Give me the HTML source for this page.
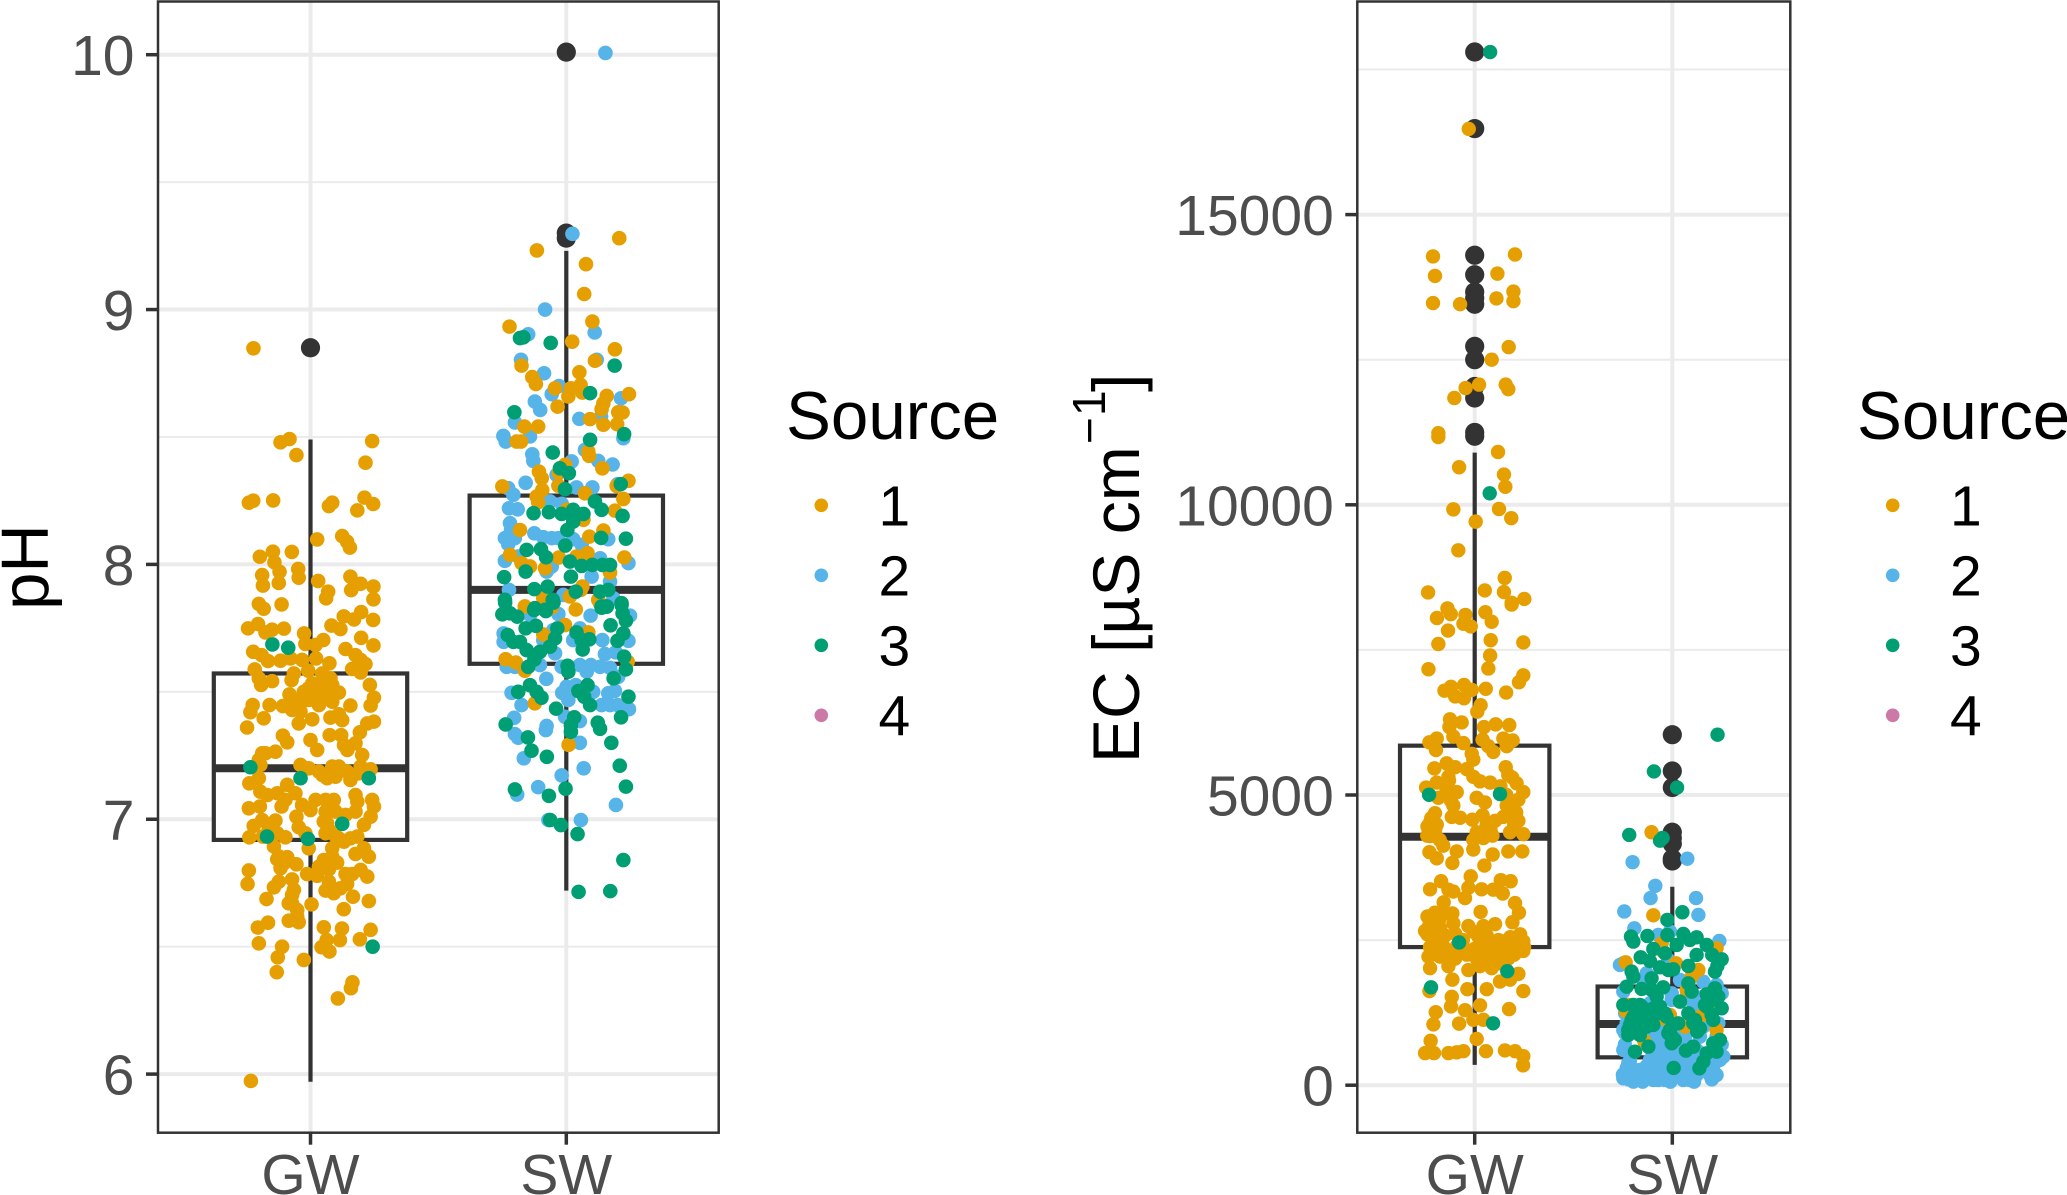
<!DOCTYPE html>
<html lang="en">
<head>
<meta charset="utf-8">
<title>pH and EC by water type</title>
<style>
html,body{margin:0;padding:0;background:#fff;width:2067px;height:1195px;overflow:hidden}
svg{display:block;font-family:"Liberation Sans",Arial,sans-serif}
</style>
</head>
<body>
<svg id="figure" xmlns="http://www.w3.org/2000/svg" width="2067" height="1195" viewBox="0 0 2067 1195">
<rect width="2067" height="1195" fill="#fff"/>
<g id="ph-panel"></g>
<g id="ec-panel"></g>
<text transform="translate(48,567) rotate(-90)" text-anchor="middle" font-size="67" fill="#000">pH</text>
<text transform="translate(1139,763) rotate(-90)" font-size="66" fill="#000">EC [µS cm</text>
<text transform="translate(1105,444) rotate(-90)" font-size="46" fill="#000">−</text>
<text transform="translate(1105,416) rotate(-90)" font-size="46" fill="#000">1</text>
<text transform="translate(1139,392) rotate(-90)" font-size="66" fill="#000">]</text>
<g>
<text x="786" y="439" font-size="67.3" fill="#000">Source</text>
<circle cx="821.3" cy="505.3" r="6.8" fill="#E69F00"/>
<circle cx="821.3" cy="575.3" r="6.8" fill="#56B4E9"/>
<circle cx="821.3" cy="645.3" r="6.8" fill="#009E73"/>
<circle cx="821.3" cy="715.3" r="6.8" fill="#CC79A7"/>
<text x="878.5" y="525.7" font-size="57" fill="#000">1</text>
<text x="878.5" y="595.7" font-size="57" fill="#000">2</text>
<text x="878.5" y="665.7" font-size="57" fill="#000">3</text>
<text x="878.5" y="735.7" font-size="57" fill="#000">4</text>
</g>
<g>
<text x="1857" y="439" font-size="67.3" fill="#000">Source</text>
<circle cx="1892.7" cy="505.3" r="6.8" fill="#E69F00"/>
<circle cx="1892.7" cy="575.3" r="6.8" fill="#56B4E9"/>
<circle cx="1892.7" cy="645.3" r="6.8" fill="#009E73"/>
<circle cx="1892.7" cy="715.3" r="6.8" fill="#CC79A7"/>
<text x="1950" y="525.7" font-size="57" fill="#000">1</text>
<text x="1950" y="595.7" font-size="57" fill="#000">2</text>
<text x="1950" y="665.7" font-size="57" fill="#000">3</text>
<text x="1950" y="735.7" font-size="57" fill="#000">4</text>
</g>
</svg>
<script>
// Categories and tick values
const categories = ['GW', 'SW'];
const phMajorTicks = [6, 7, 8, 9, 10];
const phMinorTicks = [6.5, 7.5, 8.5, 9.5];
const ecMajorTicks = [0, 5000, 10000, 15000];
const ecMinorTicks = [2500, 7500, 12500, 17500];

// Box statistics per category: GW, SW
const phLower = [5.97, 6.72];
const phQ1 = [6.919, 7.61];
const phMedian = [7.2, 7.9];
const phQ3 = [7.572, 8.27];
const phUpper = [8.49, 9.23];
const ecLower = [350, 20];
const ecQ1 = [2380, 480];
const ecMedian = [4280, 1055];
const ecQ3 = [5850, 1700];
const ecUpper = [10900, 3420];

// Outlier values per category
const phOutliersGw = [8.85];
const phOutliersSw = [10.01, 9.3, 9.28];
const ecOutliersGw = [17801, 16482, 14300, 13964, 13667, 13560, 13456, 12730, 12500, 12038, 11840, 11247, 11181];
const ecOutliersSw = [6039, 5413, 5129, 4358, 4259, 4160, 3903, 3863];

// Jittered samples as [jitter in category units, measured value]
const phGwSource1 = [[-.223,8.848],[-.117,8.479],[-.082,8.492],[-.055,8.429],[.241,8.484],[.215,8.399],[-.241,8.242],[-.224,8.25],[-.146,8.251],[.072,8.229],[.085,8.242],[.183,8.212],[.211,8.262],[.245,8.237],[.026,8.098],[.124,8.111],[.143,8.089],[.154,8.066],[-.198,8.03],[-.147,8.05],[-.073,8.049],[-.141,8.008],[-.121,7.971],[-.124,7.927],[-.048,7.982],[-.046,7.948],[-.189,7.958],[-.186,7.917],[.03,7.935],[.156,7.952],[.196,7.924],[.159,7.899],[.246,7.913],[.246,7.863],[.069,7.893],[.061,7.867],[-.202,7.845],[-.183,7.826],[-.113,7.843],[-.244,7.749],[-.205,7.766],[-.176,7.733],[-.15,7.744],[-.104,7.748],[.082,7.76],[.117,7.746],[.13,7.796],[.17,7.784],[.198,7.813],[.245,7.782],[-.025,7.729],[-.02,7.688],[.05,7.703],[.02,7.684],[.198,7.712],[.246,7.682],[.137,7.668],[.176,7.644],[.196,7.625],[.215,7.609],[.163,7.59],[.196,7.576],[-.224,7.657],[-.191,7.644],[-.166,7.621],[-.117,7.622],[-.078,7.631],[-.033,7.625],[-.009,7.583],[.022,7.631],[.074,7.612],[-.218,7.588],[-.202,7.553],[-.193,7.527],[-.15,7.542],[-.065,7.572],[-.074,7.546],[.046,7.572],[.078,7.553],[-.026,7.5],[.007,7.533],[.046,7.54],[.02,7.487],[.059,7.514],[-.007,7.468],[.033,7.448],[.085,7.461],[.111,7.497],[-.082,7.49],[-.039,7.455],[-.108,7.444],[-.072,7.429],[-.16,7.448],[-.226,7.448],[-.235,7.42],[-.183,7.396],[-.248,7.36],[.232,7.527],[.248,7.477],[.235,7.446],[.156,7.446],[.007,7.392],[.078,7.399],[.111,7.412],[.124,7.389],[-.046,7.376],[.248,7.383],[.222,7.376],[.193,7.341],[.075,7.33],[.12,7.33],[-.108,7.328],[-.091,7.302],[0,7.311],[.026,7.272],[-.189,7.259],[-.137,7.265],[.131,7.291],[.176,7.298],[.144,7.272],[.202,7.252],
[-.196,7.213],[-.202,7.161],[-.239,7.141],[-.039,7.213],[-.007,7.2],[.033,7.187],[.085,7.207],[.111,7.207],[.065,7.161],[.098,7.167],[.156,7.154],[.196,7.207],[.235,7.196],[.143,7.187],[-.091,7.135],[-.059,7.102],[-.196,7.108],[-.169,7.095],[-.13,7.102],[-.098,7.076],[-.113,7.05],[-.241,7.043],[-.198,7.05],[.176,7.095],[.183,7.069],[.241,7.076],[.248,7.05],[.176,7.03],[.02,7.076],[.059,7.076],[.091,7.076],[-.033,7.056],[0,7.036],[.059,7.03],[.098,7.03],[.137,7.017],[.235,7.01],[-.055,7.01],[-.046,6.969],[.065,6.984],[.209,6.978],[-.189,6.997],[-.137,6.995],[-.222,6.974],[-.163,6.965],[-.239,6.929],[-.186,6.932],[-.13,6.945],[-.098,6.929],[-.02,6.945],[.059,6.945],[.098,6.935],[.131,6.912],[.183,6.932],[-.143,6.893],[-.007,6.886],[.085,6.886],[.209,6.886],[.176,6.864],[.228,6.853],[-.13,6.843],[-.091,6.851],[-.055,6.823],[-.117,6.808],[.052,6.84],[.104,6.83],[.072,6.804],[.033,6.814],[.196,6.801],[-.241,6.799],[-.246,6.746],[-.013,6.785],[.026,6.778],[.137,6.785],[.163,6.785],[.222,6.775],[-.072,6.764],[-.124,6.755],[-.143,6.733],[.059,6.72],[.091,6.71],[.117,6.729],[.143,6.746],[.072,6.755],[.166,6.696],[.228,6.679],[-.172,6.687],[-.072,6.703],[-.085,6.67],[.004,6.666],[.13,6.647],[-.052,6.644],[-.085,6.602],[-.046,6.596],[-.166,6.594],[-.206,6.575],[.052,6.576],[.123,6.571],[.235,6.566],[.193,6.529],[.115,6.526],[.063,6.526],[.043,6.498],[.074,6.481],[-.202,6.513],[-.111,6.5],[-.128,6.458],[-.026,6.448],[-.132,6.4],[.164,6.36],[.158,6.337],[.107,6.297],[-.233,5.973]];
const phGwSource1Cluster = [[-.007,7.514],[.026,7.507],[.065,7.54],[.039,7.474],[-.02,7.487],[-.052,7.468],[.059,7.481],[-.072,7.448],[.085,7.527],[-.039,7.422],[.072,7.036],[.052,6.991],[.085,7.05],[.072,6.958],[.111,6.925],[.156,6.925],[-.124,6.854],[-.104,6.827],[-.072,6.67],[-.065,6.723],[-.052,6.618],[.085,6.853],[.052,6.814],[-.202,7.233],[-.176,7.259],[.046,7.174],[.188,7.18]];
const phGwSource3 = [[-.149,7.686],[-.087,7.673],[-.235,7.204],[-.039,7.161],[.228,7.161],[.124,6.982],[-.01,6.923],[-.17,6.932],[.243,6.5]];
const phSwSource1 = [[.207,9.28],[-.115,9.232],[.077,9.178],[.07,9.061],[-.222,8.933],[.102,8.953],[.023,8.874],[.19,8.844],[.112,8.799],[-.175,8.78],[.051,8.754],[-.133,8.735],[-.119,8.708],[-.044,8.691],[.245,8.668],[.158,8.661],[.018,8.691],[.056,8.704],[.063,8.674],[.008,8.659],[-.034,8.619],[.145,8.632],[.138,8.609],[.203,8.597],[.22,8.596],[.093,8.57],[.145,8.548],[.199,8.55],[-.164,8.541],[-.11,8.541],[-.194,8.482],[-.177,8.482],[.086,8.443],[.089,8.426],[.141,8.377],[-.107,8.364],[-.096,8.338],[-.005,8.391],[-.029,8.36],[-.031,8.309],[-.25,8.306],[-.094,8.292],[-.116,8.266],[-.11,8.244],[.073,8.279],[.223,8.257],[.243,8.328],[.197,8.308],[.19,8.211],[-.181,8.135],[.145,8.133],[.09,8.109],[-.22,8.037],[-.175,8.005],[-.142,7.992],[-.083,7.985],[-.029,8.027],[.04,8.031],[.083,8.044],[.227,8.027],[.171,7.968],[.063,7.913],[.057,7.9],[.014,7.874],[-.09,7.867],[-.162,7.835],[.125,7.861],[.001,8.214],[.067,8.175],[-.162,7.834],[-.057,7.831],[.037,7.823],[.132,7.847],[-.005,7.762],[-.09,7.725],[.086,7.733],[-.237,7.628],[-.197,7.615],[-.162,7.583],[.24,7.618],[-.123,7.455],[.009,7.292]];
const phSwSource2 = [[.153,10.007],[.024,9.297],[-.083,9],[-.149,8.903],[.111,8.91],[-.177,8.803],[-.087,8.75],[.119,8.803],[-.029,8.7],[-.057,8.668],[.214,8.652],[-.123,8.639],[-.102,8.606],[-.201,8.557],[.051,8.571],[.136,8.58],[-.142,8.502],[-.246,8.504],[-.237,8.482],[.223,8.495],[-.133,8.432],[-.129,8.406],[.073,8.449],[.125,8.406],[.181,8.392],[.021,8.404],[-.159,8.32],[-.038,8.351],[-.227,8.299],[-.207,8.273],[.04,8.302],[.102,8.302],[.201,8.315],[-.224,8.22],[-.19,8.216],[-.064,8.247],[-.018,8.238],[-.22,8.162],[-.216,8.135],[-.125,8.122],[-.09,8.107],[-.057,8.103],[-.031,8.103],[-.24,8.103],[-.201,8.103],[-.227,8.079],[.027,8.099],[.06,8.077],[.164,8.099],[-.24,8.014],[-.188,8.031],[.132,8.024],[.243,8.005],[-.077,7.972],[-.057,7.992],[.099,7.952],[.171,7.933],[-.224,7.9],[-.012,7.88],[.184,7.867],[-.031,7.805],[.095,7.799],[.249,7.799],[-.142,7.801],[-.245,7.729],[-.245,7.696],[-.051,7.742],[.053,7.749],[.027,7.703],[.141,7.703],[.243,7.7],[-.09,7.703],[-.044,7.651],[.151,7.648],[.193,7.655],[-.233,7.598],[-.201,7.598],[-.103,7.605],[-.018,7.598],[.053,7.605],[.096,7.605],[.132,7.598],[.171,7.594],[.08,7.579],[-.078,7.551],[.203,7.559],[-.214,7.496],[.001,7.52],[.037,7.526],[-.016,7.496],[.008,7.468],[.105,7.5],[.164,7.494],[.19,7.504],[.138,7.448],[.171,7.448],[.201,7.448],[.245,7.432],[-.175,7.448],[-.204,7.398],[-.005,7.402],[.053,7.385],[-.077,7.366],[-.08,7.35],[-.201,7.334],[-.188,7.32],[.053,7.3],[-.166,7.239],[.068,7.2],[-.018,7.172],[-.11,7.126],[-.192,7.097],[.194,7.056],[.057,6.997],[-.07,6.997]];
const phSwSource3 = [[-.181,8.888],[-.168,8.891],[-.061,8.869],[.189,8.78],[.093,8.672],[-.203,8.597],[.226,8.511],[.093,8.489],[-.053,8.439],[-.025,8.377],[.01,8.358],[-.005,8.295],[.213,8.315],[.112,8.247],[.138,8.214],[-.128,8.201],[-.068,8.205],[-.018,8.198],[.027,8.214],[.067,8.198],[.027,8.168],[.004,8.135],[.22,8.19],[.136,8.104],[.233,8.101],[-.004,8.074],[-.155,8.057],[-.099,8.06],[-.079,8.028],[.014,8.011],[.06,7.994],[.102,7.998],[.141,7.998],[.171,7.998],[-.243,7.95],[-.159,7.972],[.018,7.952],[-.125,7.903],[-.073,7.913],[.132,7.893],[.164,7.9],[.037,7.893],[-.24,7.861],[-.053,7.861],[.216,7.848],[.138,7.835],[.158,7.835],[-.123,7.828],[-.083,7.822],[-.239,7.85],[-.25,7.804],[-.22,7.808],[-.192,7.795],[-.126,7.821],[-.08,7.817],[-.05,7.85],[.138,7.83],[.158,7.834],[.216,7.84],[.22,7.808],[.233,7.779],[.173,7.761],[-.159,7.749],[-.119,7.759],[-.229,7.723],[-.207,7.696],[-.181,7.696],[-.155,7.664],[-.035,7.749],[-.044,7.71],[-.064,7.677],[-.103,7.657],[-.125,7.627],[-.149,7.598],[.04,7.733],[.06,7.703],[.09,7.706],[.064,7.666],[.223,7.729],[.2,7.7],[.226,7.638],[.233,7.588],[.005,7.602],[.008,7.579],[.185,7.553],[-.188,7.5],[-.142,7.526],[-.116,7.5],[-.097,7.477],[.083,7.526],[.047,7.503],[.07,7.481],[.093,7.448],[.243,7.481],[-.04,7.434],[.031,7.4],[.018,7.369],[.018,7.343],[.214,7.4],[.123,7.379],[.132,7.355],[-.237,7.372],[-.15,7.321],[-.136,7.269],[.176,7.3],[-.076,7.245],[.209,7.21],[.233,7.128],[-.201,7.117],[-.003,7.12],[-.068,7.092],[-.063,6.997],[-.021,6.977],[.044,6.942],[.223,6.84],[.048,6.715],[.172,6.718]];

const ecGwSource1 = [[-.03,16476],[-.211,14280],[.204,14313],[-.201,13944],[.115,13983],[.196,13673],[.196,13508],[.11,13555],[-.211,13476],[-.074,13456],[.172,12717],[.086,12500],[-.046,12012],[.022,12071],[.157,12071],[.17,11992],[-.103,11840],[-.184,11234],[-.184,11168],[.118,10910],[-.079,10647],[.148,10521],[.155,10310],[-.108,9921],[.123,9928],[.185,9770],[.005,9710],[-.083,9216],[.152,8741],[-.236,8490],[.051,8524],[.148,8497],[.251,8378],[.187,8312],[.187,8281],[-.138,8215],[-.121,8116],[-.191,8050],[-.047,8103],[.054,8149],[.086,7984],[-.057,7951],[-.02,7905],[-.135,7833],[.081,7668],[.246,7628],[-.184,7602],[.078,7404],[.069,7180],[-.234,7167],[.246,7061],[.224,6943],[-.153,6798],[-.12,6863],[-.054,6896],[-.015,6811],[-.099,6699],[-.054,6666],[.056,6830],[.159,6765],[.03,6547],[.013,6435],[-.125,6303],[-.066,6250],[-.128,6171],[-.108,6006],[.047,6171],[.106,6217],[.175,6204],[-.192,5973],[-.229,5907],[-.057,5894],[-.196,5775],[.04,5953],[.069,5841],[.145,5973],[.192,5940],[.162,5841],[.094,5742],[-.015,5710],[-.007,5611],[-.204,5459],[-.142,5545],[-.099,5479],[-.04,5446],[.157,5479],[.17,5347],[-.133,5314],[-.007,5314],[.027,5235],[-.246,5129],[-.192,5215],[.078,5215],[.212,5202],[-.142,5083],[-.091,5050],[.246,5050],[-.184,4951],[.01,4951],[.052,4872],[.221,4918],[-.108,4819],[.162,4819],[-.201,4687],[-.116,4622],[-.074,4608],[-.012,4575],[.179,4687],[.145,4622],[.221,4555],[-.239,4457],[-.192,4490],[.061,4490],[.103,4555],[.01,4358],[.179,4358],[.246,4325],[-.226,4292],[.044,4259],[-.007,4226],[-.177,4226],[-.159,4127],[-.007,4061],[-.229,4015],[-.192,3909],[-.091,4028],[-.113,3830],[.091,3975],[.17,4028],[.241,4028],[.049,3784],[-.02,3599],[-.17,3514],[.132,3533],[.182,3514],[-.226,3375],[-.133,3369],[-.108,3336],[-.032,3402],[.035,3375],[.094,3369],[.142,3303],[-.049,3224],[-.157,3151],[.204,3138],[.03,2986],[.224,2973],[-.113,2960],[-.201,2973],[.191,2808],[.103,2775],[-.032,2742],[.044,2742],[-.239,2907],[-.192,2808],[-.108,2788],[-.251,2657],[-.175,2709],[-.099,2610],[-.007,2643],[.061,2577],[.204,2544],[.145,2479],[.246,2479],[-.201,2479],[-.15,2577],[-.226,2380],[.035,2413],[.086,2446],[-.049,2346],[.145,2281],[.196,2314],[.246,2314],[-.234,2215],[-.175,2215],[-.099,2182],[.01,2182],[.061,2215],[.17,2182],[-.226,2017],[-.133,2050],[-.032,1984],[.027,2050],[.086,2017],[.221,1918],[.179,1819],[.128,1786],[.061,1654],[-.113,1819],[-.037,1654],[.246,1622],[-.229,1622],[-.116,1522],[-.12,1357],[.027,1377],[.174,1311],[-.049,1292],[-.197,1258],[-.079,1061],[-.209,1047],[-.007,1127],[.044,1127],[.01,797],[-.223,764],[-.251,553],[-.206,553],[-.133,553],[-.091,566],[-.057,586],[.057,586],[.153,599],[.204,586],[.246,500],[.245,342]];
const ecGwSource1Cluster = [[-.24,2600],[-.21,2350],[-.19,2250],[-.16,2400],[-.14,2300],[-.12,2150],[-.09,2400],[-.06,2500],[-.04,2250],[0,2350],[.02,2550],[.05,2450],[.07,2350],[.1,2300],[.12,2500],[.16,2400],[.18,2550],[.2,2250],[.22,2450],[.23,2600],[.25,2380],[.13,2100],[.09,2150],[.04,2200],[-.23,2750],[-.2,2650],[-.18,2850],[-.16,2950],[-.24,4300],[-.22,4600],[-.2,4400],[-.23,4500],[.04,4650],[.08,4400],[.09,4300],[.16,5000],[.2,4500],[.19,5300],[.13,5150],[.21,4700],[-.12,4900],[-.13,5250]];
const ecGwSource3 = [[.078,17801],[.076,10198],[-.231,5004],[.128,5017],[-.079,2459],[.165,1964],[-.221,1687],[.093,1067]];
const ecSwSource1 = [[-.105,4358],[-.096,2927],[-.054,2445],[.224,2359],[-.046,2301],[-.236,2117],[.019,2100],[.132,1985],[.098,1870],[-.223,1382],[-.236,1279],[-.012,1210],[-.046,1153],[.14,1181],[.064,1009],[.224,952],[-.142,762],[.073,1641],[.207,1325]];
const ecSwSource2 = [[-.201,3843],[.076,3903],[-.086,3435],[-.11,3224],[.12,3224],[-.243,2993],[.132,2933],[-.192,2703],[.238,2485],[-.071,2588],[-.012,2646],[-.248,2100],[-.265,2072],[-.13,1928],[.039,1813],[.157,1784],[.224,1727],[-.248,1612],[-.003,1583],[-.239,1239],[-.231,1067],[-.248,952],[.106,1411],[-.003,1469],[-.037,952],[-.062,837],[-.113,837],[.224,837],[.241,665],[.258,492],[-.248,607],[-.223,377],[-.231,148],[-.197,62],[-.155,148],[-.248,119],[-.18,234],[-.096,665],[-.079,492],[-.029,550],[-.113,435],[-.062,377],[-.012,377],[.039,435],[.089,320],[-.105,263],[-.121,148],[-.071,90],[-.037,90],[.03,148],[.073,148],[.115,148],[.056,291],[-.046,234],[-.096,90],[-.147,90],[.191,176],[.224,176],[.157,492],[.207,492],[.241,435],[.207,320],[-.046,665],[.005,607],[.073,550],[.123,607],[-.012,837],[.022,1009],[.064,837],[.14,837],[.157,1009],[-.037,780],[-.096,1009],[-.02,1124],[.106,1239],[-.113,1411],[-.147,1813],[-.02,2158],[.073,1526],[.157,1526],[.25,1583],[-.214,435],[-.197,205],[-.164,263],[-.231,291],[-.18,90],[-.037,2560],[.216,1698],[.233,1067],[.056,90],[.089,90],[.123,176]];
const ecSwSource2Cluster = [[-.25,180],[-.22,100],[-.2,280],[-.17,150],[-.15,60],[-.13,250],[-.09,190],[-.06,130],[-.03,200],[-.01,60],[.01,170],[.04,250],[.06,190],[.09,200],[.11,60],[.13,280],[.17,280],[.2,100],[-.08,560],[-.03,420],[.02,500],[.05,620],[.09,450],[-.05,900],[-.1,560],[-.13,330],[.02,740],[.03,330],[-.01,280],[.12,400],[.14,560],[.22,420],[.25,700],[-.24,700],[-.24,900]];
const ecSwSource3 = [[.229,6039],[-.093,5406],[.024,5129],[-.218,4312],[-.062,4213],[-.049,4259],[.051,2980],[-.025,2848],[-.209,2560],[-.197,2474],[-.126,2571],[-.025,2588],[.056,2606],[.022,2416],[.123,2548],[.089,2502],[.174,2416],[-.096,2347],[-.037,2273],[.202,2244],[.123,2244],[.25,2169],[-.16,2204],[-.113,2140],[.081,2054],[-.062,2031],[.005,1997],[-.02,1985],[.228,2054],[.216,1957],[-.206,1957],[-.197,1870],[-.105,1842],[-.231,1698],[-.155,1658],[-.046,1687],[-.105,1641],[.081,1756],[.098,1612],[-.079,1526],[.216,1670],[.174,1566],[.224,1469],[.25,1325],[.174,1354],[.039,1440],[-.248,1382],[-.164,1382],[-.096,1325],[-.062,1354],[-.189,1325],[-.147,1267],[-.037,1239],[.081,1239],[-.18,1181],[-.147,1153],[-.096,1038],[-.214,1038],[-.172,1009],[-.223,865],[-.164,865],[.03,1067],[-.012,952],[.106,1067],[.126,923],[.207,1124],[-.003,837],[-.003,722],[-.121,665],[-.189,578],[.241,779],[.207,722],[.224,578],[.106,665],[.069,596],[.174,550],[.157,406],[.137,291],[.007,297]];
const ecSwSource3Cluster = [[-.197,1382],[-.18,1267],[-.155,1354],[-.13,1296],[-.105,1239],[-.197,1181],[-.164,1124],[-.13,1124],[-.206,1124],[-.189,1038],[-.223,952],[-.13,1009],[-.071,1239],[-.029,1181],[.013,779],[-.02,894],[.115,1124],[.14,980],[.199,1210],[.233,1526],[.191,1555],[.165,1382]];

const SVG_NS = 'http://www.w3.org/2000/svg';
const COLOR_S1 = '#E69F00', COLOR_S2 = '#56B4E9', COLOR_S3 = '#009E73';
const INK = '#333333', GRID = '#EBEBEB', LABEL = '#4D4D4D';
const BOX_HALF = 0.378;
const TOP = 1.5, BOTTOM = 1132.7, TICK = 12;

function make(tag, parent, attrs) {
  const el = document.createElementNS(SVG_NS, tag);
  for (const k in attrs) el.setAttribute(k, attrs[k]);
  parent.appendChild(el);
  return el;
}

function drawPanel(cfg) {
  const g = document.getElementById(cfg.id);
  const x = (i, j) => cfg.x0 + (i + (j || 0)) * cfg.xUnit;
  const y = v => cfg.y0 - v * cfg.yUnit;

  cfg.minor.forEach(v => {
    const el = make('line', g, {x1: cfg.left, x2: cfg.right, y1: y(v), y2: y(v), stroke: GRID, 'stroke-width': 2});
    
    
  });
  cfg.major.forEach(v => {
    const el = make('line', g, {x1: cfg.left, x2: cfg.right, y1: y(v), y2: y(v), stroke: GRID, 'stroke-width': 4});
    
    
  });
  categories.forEach((c, i) => {
    const el = make('line', g, {x1: x(i), x2: x(i), y1: TOP, y2: BOTTOM, stroke: GRID, 'stroke-width': 4});
    
    
  });

  categories.forEach((c, i) => {
    const whisker = make('line', g, {x1: x(i), x2: x(i), y1: y(cfg.upper[i]), y2: y(cfg.lower[i]), stroke: INK, 'stroke-width': 4.2});
    
    
    const box = make('rect', g, {x: x(i, -BOX_HALF), width: 2 * BOX_HALF * cfg.xUnit, y: y(cfg.q3[i]), height: y(cfg.q1[i]) - y(cfg.q3[i]), fill: '#fff', stroke: INK, 'stroke-width': 4.2});
    
    
    const median = make('line', g, {x1: x(i, -BOX_HALF), x2: x(i, BOX_HALF), y1: y(cfg.median[i]), y2: y(cfg.median[i]), stroke: INK, 'stroke-width': 8});
    
    
    cfg.outliers[i].forEach(v => {
      const o = make('circle', g, {cx: x(i), cy: y(v), r: 9.6, fill: INK});
      
      
    });
  });

  cfg.series.forEach(s => {
    s.values.forEach(p => {
      const dot = make('circle', g, {cx: x(s.cat, p[0]), cy: y(p[1]), r: cfg.r, fill: s.color});
      
      
    });
  });

  const frame = make('rect', g, {x: cfg.left, y: TOP, width: cfg.right - cfg.left, height: BOTTOM - TOP, fill: 'none', stroke: INK, 'stroke-width': 2.5});
  
  

  cfg.major.forEach(v => {
    const t = make('line', g, {x1: cfg.left - TICK, x2: cfg.left, y1: y(v), y2: y(v), stroke: INK, 'stroke-width': 3.5});
    
    
    const lab = make('text', g, {x: cfg.left - TICK - 11.5, y: y(v) + 20.5, 'text-anchor': 'end', 'font-size': 57, fill: LABEL});
    
    
    lab.textContent = String(v);
  });
  categories.forEach((c, i) => {
    const t = make('line', g, {x1: x(i), x2: x(i), y1: BOTTOM, y2: BOTTOM + TICK, stroke: INK, 'stroke-width': 3.5});
    
    
    const lab = make('text', g, {x: x(i), y: 1194, 'text-anchor': 'middle', 'font-size': 57, fill: LABEL});
    
    
    lab.textContent = c;
  });
}

drawPanel({
  id: 'ph-panel', left: 158, right: 718.7, x0: 310.5, xUnit: 255.8,
  y0: 1074.1 + 6 * 254.85, yUnit: 254.85, r: 7.3,
  major: phMajorTicks, minor: phMinorTicks,
  lower: phLower, q1: phQ1, median: phMedian, q3: phQ3, upper: phUpper,
  outliers: [phOutliersGw, phOutliersSw],
  series: [
    {cat: 0, color: COLOR_S1, values: phGwSource1},
    {cat: 0, color: COLOR_S1, values: phGwSource1Cluster},
    {cat: 0, color: COLOR_S3, values: phGwSource3},
    {cat: 1, color: COLOR_S2, values: phSwSource2},
    {cat: 1, color: COLOR_S1, values: phSwSource1},
    {cat: 1, color: COLOR_S3, values: phSwSource3}
  ]
});

drawPanel({
  id: 'ec-panel', left: 1357.3, right: 1790.3, x0: 1474.7, xUnit: 197.6,
  y0: 1085.2, yUnit: 290.2 / 5000, r: 7.2,
  major: ecMajorTicks, minor: ecMinorTicks,
  lower: ecLower, q1: ecQ1, median: ecMedian, q3: ecQ3, upper: ecUpper,
  outliers: [ecOutliersGw, ecOutliersSw],
  series: [
    {cat: 0, color: COLOR_S1, values: ecGwSource1},
    {cat: 0, color: COLOR_S1, values: ecGwSource1Cluster},
    {cat: 0, color: COLOR_S3, values: ecGwSource3},
    {cat: 1, color: COLOR_S2, values: ecSwSource2},
    {cat: 1, color: COLOR_S2, values: ecSwSource2Cluster},
    {cat: 1, color: COLOR_S1, values: ecSwSource1},
    {cat: 1, color: COLOR_S3, values: ecSwSource3},
    {cat: 1, color: COLOR_S3, values: ecSwSource3Cluster}
  ]
});
</script>
</body>
</html>
